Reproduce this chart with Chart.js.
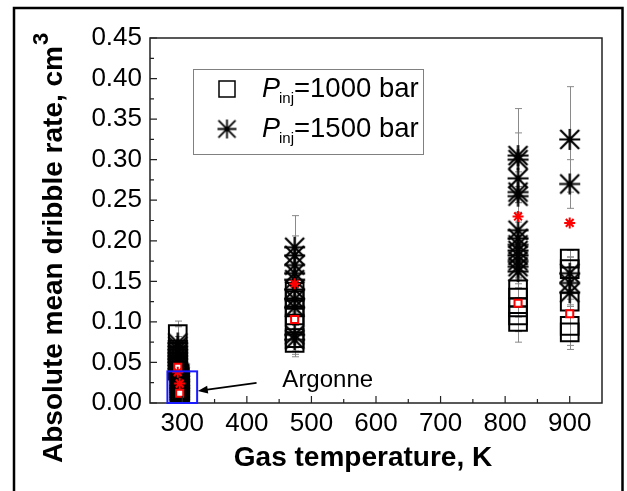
<!DOCTYPE html>
<html>
<head>
<meta charset="utf-8">
<script src="https://cdn.jsdelivr.net/npm/chart.js@4.4.0/dist/chart.umd.min.js"></script>
<style>
    html, body { margin: 0; padding: 0; background: #fff; }
</style>
</head>
<body>
<canvas id="c" width="627" height="491"></canvas>
<script>
// gas temperature of each group, K
const temps = [293, 474, 820, 900]
const argonneTemp = 296

// single-run dribble rates, cm3 (Pinj = 1000 bar)
const p1000 = [
    [0.085, 0.066, 0.058, 0.050, 0.045, 0.040],
    [0.137, 0.127, 0.118, 0.108, 0.098, 0.080, 0.074],
    [0.140, 0.130, 0.118, 0.108, 0.100],
    [0.178, 0.165, 0.125, 0.095, 0.087]
]
const p1000Err = [
    [0.016, 0.008, 0.010, 0.010, 0.008, 0.008],
    [0.020, 0.015, 0.015, 0.012, 0.012, 0.012, 0.017],
    [0.015, 0.012, 0.012, 0.020, 0.025],
    [0.010, 0.015, 0.012, 0.024, 0.021]
]
// single-run dribble rates, cm3 (Pinj = 1500 bar)
const p1500 = [
    [0.074, 0.070, 0.066, 0.062, 0.058, 0.054, 0.050, 0.046, 0.042],
    [0.192, 0.182, 0.170, 0.160, 0.152, 0.140, 0.128, 0.118, 0.084, 0.078],
    [0.305, 0.300, 0.277, 0.260, 0.255, 0.213, 0.203, 0.195, 0.188, 0.182, 0.175, 0.168, 0.162],
    [0.325, 0.270, 0.160, 0.148, 0.136]
]
const p1500Err = [
    [0.020, 0.012, 0.010, 0.010, 0.008, 0.008, 0.006, 0.006, 0.006],
    [0.039, 0.024, 0.020, 0.018, 0.015, 0.012, 0.015, 0.012, 0.020, 0.018],
    [0.058, 0.033, 0.030, 0.025, 0.020, 0.020, 0.020, 0.018, 0.018, 0.015, 0.015, 0.015, 0.015],
    [0.065, 0.030, 0.020, 0.020, 0.015]
]
// Argonne runs at room temperature
const argonne1000 = [0.035, 0.031, 0.027, 0.024, 0.021, 0.018, 0.015, 0.012, 0.009, 0.006]
const argonne1500 = [0.037, 0.033, 0.029, 0.026, 0.022, 0.019, 0.016, 0.013, 0.010, 0.007, 0.004]
const argonneErr = 0.003

// group means (red)
const mean1000 = [0.044, 0.103, 0.123, 0.110]
const mean1500 = [0.038, 0.147, 0.230, 0.222]
const argonneMean1000 = 0.012
const argonneMean1500 = 0.024

const xTickVals = [300, 400, 500, 600, 700, 800, 900]
const yTickVals = [0, 0.05, 0.10, 0.15, 0.20, 0.25, 0.30, 0.35, 0.40, 0.45]

// annotation (data coords)
const argonneBox = { x0: 277, x1: 323, y1: 0.039 }
const argonneArrow = { from: [415, 0.0247], to: [324, 0.0148] }
const argonneLabel = { x: 455, y: 0.0197, text: 'Argonne' }

const FONT = '"Liberation Sans", Arial, sans-serif'

function pts(x, ys) {
    return ys.map(y => ({ x, y }))
}

// asterisk marker like the origin "star"
function makeStar(size, lw) {
    const cv = document.createElement('canvas')
    cv.width = size + 2
    cv.height = size + 2
    const g = cv.getContext('2d')
    const c = cv.width / 2
    const r = size / 2
    const d = r * 0.9
    g.strokeStyle = '#000'
    g.lineWidth = lw
    g.beginPath()
    g.moveTo(c - r, c); g.lineTo(c + r, c)
    g.moveTo(c, c - r); g.lineTo(c, c + r)
    g.moveTo(c - d, c - d); g.lineTo(c + d, c + d)
    g.moveTo(c + d, c - d); g.lineTo(c - d, c + d)
    g.stroke()
    return cv
}
const starImg = makeStar(21, 2.2)
const legendStar = makeStar(19, 1.8)

const squares = temps.reduce((acc, t, i) => acc.concat(pts(t, p1000[i])), []).concat(pts(argonneTemp, argonne1000))
const squaresErr = p1000Err.flat().concat(argonne1000.map(() => argonneErr))
const stars = temps.reduce((acc, t, i) => acc.concat(pts(t, p1500[i])), []).concat(pts(argonneTemp, argonne1500))
const starsErr = p1500Err.flat().concat(argonne1500.map(() => argonneErr))

const errorBars = {
    id: 'errorBars',
    beforeDatasetsDraw(chart) {
        const { ctx, scales: { x, y } } = chart
        ctx.save()
        ctx.strokeStyle = '#8a8a8a'
        ctx.lineWidth = 1
        chart.data.datasets.forEach(ds => {
            if (!ds.errors) return
            ds.data.forEach((p, i) => {
                const e = ds.errors[i]
                const px = Math.round(x.getPixelForValue(p.x)) + 0.5
                const top = y.getPixelForValue(p.y + e)
                const bot = y.getPixelForValue(p.y - e)
                ctx.beginPath()
                ctx.moveTo(px, top); ctx.lineTo(px, bot)
                ctx.moveTo(px - 3.5, top); ctx.lineTo(px + 3.5, top)
                ctx.moveTo(px - 3.5, bot); ctx.lineTo(px + 3.5, bot)
                ctx.stroke()
            })
        })
        ctx.restore()
    }
}

const decorations = {
    id: 'decorations',
    afterDraw(chart) {
        const { ctx, chartArea: a, scales: { x, y } } = chart
        ctx.save()
        // outer frame
        ctx.strokeStyle = '#000'
        ctx.lineWidth = 2.5
        ctx.beginPath()
        ctx.moveTo(14, 491); ctx.lineTo(14, 8); ctx.lineTo(622.5, 8); ctx.lineTo(622.5, 491)
        ctx.stroke()

        // plot box
        ctx.strokeStyle = '#222'
        ctx.lineWidth = 1.5
        ctx.strokeRect(a.left, a.top, a.right - a.left, a.bottom - a.top)

        // inward ticks
        ctx.lineWidth = 1.2
        ctx.beginPath()
        xTickVals.forEach((v, i) => {
            const px = x.getPixelForValue(v)
            ctx.moveTo(px, a.bottom); ctx.lineTo(px, a.bottom - 7)
            if (i < xTickVals.length - 1) {
                const mx = x.getPixelForValue((v + xTickVals[i + 1]) / 2)
                ctx.moveTo(mx, a.bottom); ctx.lineTo(mx, a.bottom - 4)
            }
        })
        yTickVals.forEach((v, i) => {
            const py = y.getPixelForValue(v)
            ctx.moveTo(a.left, py); ctx.lineTo(a.left + 7, py)
            if (i < yTickVals.length - 1) {
                const my = y.getPixelForValue((v + yTickVals[i + 1]) / 2)
                ctx.moveTo(a.left, my); ctx.lineTo(a.left + 4, my)
            }
        })
        ctx.stroke()

        // axis titles
        ctx.fillStyle = '#000'
        ctx.font = 'bold 28px ' + FONT
        ctx.textAlign = 'center'
        ctx.textBaseline = 'alphabetic'
        ctx.fillText('Gas temperature, K', 363, 466)

        ctx.save()
        ctx.translate(62, 463)
        ctx.rotate(-Math.PI / 2)
        ctx.textAlign = 'left'
        const yTitle = 'Absolute mean dribble rate, cm'
        ctx.fillText(yTitle, 0, 0)
        const w = ctx.measureText(yTitle).width
        ctx.font = 'bold 22px ' + FONT
        ctx.fillText('3', w + 1, -14)
        ctx.restore()

        // legend
        ctx.strokeStyle = '#808080'
        ctx.lineWidth = 1
        ctx.strokeRect(193.5, 69.5, 230, 85)
        ctx.strokeStyle = '#000'
        ctx.lineWidth = 1.5
        ctx.strokeRect(219, 81, 16, 16)
        ctx.drawImage(legendStar, 227 - legendStar.width / 2, 129 - legendStar.height / 2)
        ;[['=1000 bar', 97], ['=1500 bar', 137]].forEach(([txt, by]) => {
            ctx.textAlign = 'left'
            ctx.font = 'italic 27px ' + FONT
            ctx.fillText('P', 262, by)
            const pw = ctx.measureText('P').width
            ctx.font = '15px ' + FONT
            ctx.fillText('inj', 262 + pw - 1, by + 6)
            const iw = ctx.measureText('inj').width
            ctx.font = '27.5px ' + FONT
            ctx.fillText(txt, 262 + pw + iw - 1, by)
        })

        // Argonne annotation
        const bx0 = x.getPixelForValue(argonneBox.x0)
        const bx1 = x.getPixelForValue(argonneBox.x1)
        const by1 = y.getPixelForValue(argonneBox.y1)
        ctx.strokeStyle = '#1a1aff'
        ctx.lineWidth = 2
        ctx.strokeRect(bx0, by1, bx1 - bx0, a.bottom - by1)

        const fx = x.getPixelForValue(argonneArrow.from[0])
        const fy = y.getPixelForValue(argonneArrow.from[1])
        const tx = x.getPixelForValue(argonneArrow.to[0])
        const ty = y.getPixelForValue(argonneArrow.to[1])
        const ang = Math.atan2(ty - fy, tx - fx)
        ctx.strokeStyle = '#000'
        ctx.fillStyle = '#000'
        ctx.lineWidth = 1.8
        ctx.beginPath()
        ctx.moveTo(fx, fy); ctx.lineTo(tx - 6 * Math.cos(ang), ty - 6 * Math.sin(ang))
        ctx.stroke()
        ctx.beginPath()
        ctx.moveTo(tx, ty)
        ctx.lineTo(tx - 10 * Math.cos(ang) + 4 * Math.sin(ang), ty - 10 * Math.sin(ang) - 4 * Math.cos(ang))
        ctx.lineTo(tx - 10 * Math.cos(ang) - 4 * Math.sin(ang), ty - 10 * Math.sin(ang) + 4 * Math.cos(ang))
        ctx.closePath()
        ctx.fill()

        ctx.font = '24px ' + FONT
        ctx.textAlign = 'left'
        ctx.fillText(argonneLabel.text, x.getPixelForValue(argonneLabel.x), y.getPixelForValue(argonneLabel.y))
        ctx.restore()
    }
}

new Chart(document.getElementById('c'), {
    type: 'scatter',
    data: {
        datasets: [
            {
                label: 'mean 1500',
                data: temps.map((t, i) => ({ x: t, y: mean1500[i] })).concat(pts(argonneTemp, [argonneMean1500])),
                pointStyle: 'star',
                pointRadius: 5.5,
                borderColor: '#ff0000',
                backgroundColor: '#ff0000',
                borderWidth: 2,
                order: 0
            },
            {
                label: 'mean 1000',
                data: temps.map((t, i) => ({ x: t, y: mean1000[i] })).concat(pts(argonneTemp, [argonneMean1000])),
                pointStyle: 'rect',
                pointRadius: 5,
                borderColor: '#ff0000',
                backgroundColor: '#ffffff',
                borderWidth: 2,
                order: 1
            },
            {
                label: 'Pinj=1500 bar',
                data: stars,
                errors: starsErr,
                pointStyle: starImg,
                order: 2
            },
            {
                label: 'Pinj=1000 bar',
                data: squares,
                errors: squaresErr,
                pointStyle: 'rect',
                pointRadius: 12.5,
                borderColor: '#000',
                backgroundColor: 'rgba(0,0,0,0)',
                borderWidth: 2,
                order: 3
            }
        ]
    },
    options: {
        responsive: false,
        animation: false,
        events: [],
        layout: { padding: { top: 38, right: 25, left: 0, bottom: 0 } },
        plugins: { legend: { display: false }, tooltip: { enabled: false } },
        scales: {
            x: {
                type: 'linear',
                min: 250,
                max: 950,
                grid: { display: false, drawTicks: false },
                border: { display: false },
                ticks: { color: '#000', font: { family: FONT, size: 26, lineHeight: 1 }, padding: 8 },
                afterBuildTicks: s => { s.ticks = xTickVals.map(v => ({ value: v })) },
                afterFit: s => { s.height = 88 }
            },
            y: {
                min: 0,
                max: 0.45,
                grid: { display: false, drawTicks: false },
                border: { display: false },
                ticks: { color: '#000', font: { family: FONT, size: 26, lineHeight: 1 }, padding: 8, callback: v => v.toFixed(2) },
                afterBuildTicks: s => { s.ticks = yTickVals.map(v => ({ value: v })) },
                afterFit: s => { s.width = 150 }
            }
        }
    },
    plugins: [errorBars, decorations]
})
</script>
</body>
</html>
